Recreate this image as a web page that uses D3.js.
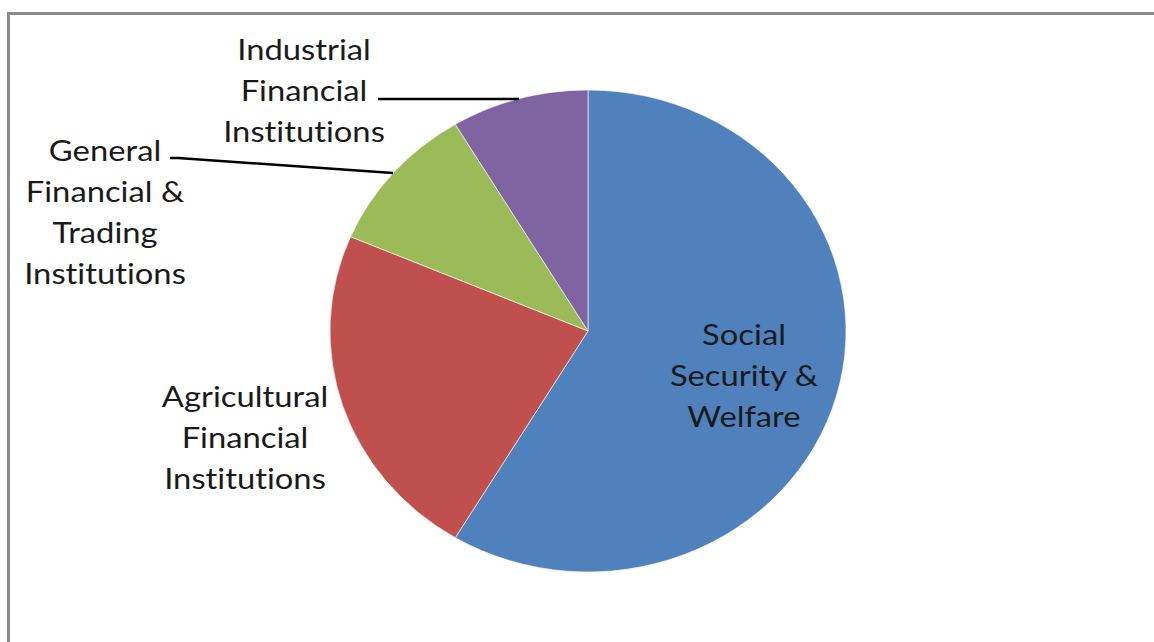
<!DOCTYPE html>
<html><head><meta charset="utf-8">
<script src="https://cdn.jsdelivr.net/npm/d3@7"></script>
<style>body{margin:0;background:#fff}svg{display:block}</style>
</head><body>
<svg id="chart" width="1154" height="642"></svg>
<script>
const categories = ["Social Security & Welfare","Agricultural Financial Institutions","General Financial & Trading Institutions","Industrial Financial Institutions"];
const values = [58.6, 22.8, 10.0, 8.6];
const colors = ["#4F81BD","#C0504D","#9BBB59","#8064A2"];
const labelLines = [["Social","Security &","Welfare"],["Agricultural","Financial","Institutions"],["General","Financial &","Trading","Institutions"],["Industrial","Financial","Institutions"]];

const svg = d3.select("#chart");
svg.append("rect").attr("x",8.5).attr("y",13.5).attr("width",1200).attr("height",700)
  .attr("fill","none").attr("stroke","#8a8a8a").attr("stroke-width",3);

const cx=588, cy=331, rx=258, ry=241;
const pie = d3.pie().sort(null).value(d=>d)(values);
const arc = d3.arc().innerRadius(0).outerRadius(ry);
const g = svg.append("g").attr("transform",`translate(${cx},${cy}) scale(${rx/ry},1)`);
g.selectAll("path").data(pie).join("path").attr("d",arc)
  .attr("fill",(d,i)=>colors[i]).attr("stroke","#ffffff").attr("stroke-opacity",0.6)
  .attr("stroke-width",1).attr("vector-effect","non-scaling-stroke");

// leader lines
const leaders = [null,null,[[170,158],[178,158],[393,173]],[[378,99],[519,99]]];
leaders.forEach(l=>{ if(l) svg.append("path").attr("d",d3.line()(l)).attr("fill","none").attr("stroke","#000").attr("stroke-width",2.5); });

const labelPos = [[744,345],[245,407],[105,161],[304,60]];
const sx = 1.13;
labelLines.forEach((lines,i)=>{
  const t = svg.append("text").attr("text-anchor","middle").attr("font-family","Lato, 'Open Sans', sans-serif")
    .attr("font-size",29).attr("fill","#1a1a1a").style("font-variant-ligatures","none")
    .attr("transform",`translate(${labelPos[i][0]},${labelPos[i][1]}) scale(${sx},1)`);
  lines.forEach((s,j)=>t.append("tspan").attr("x",0).attr("y",j*41).text(s));
});
</script>
</body></html>
